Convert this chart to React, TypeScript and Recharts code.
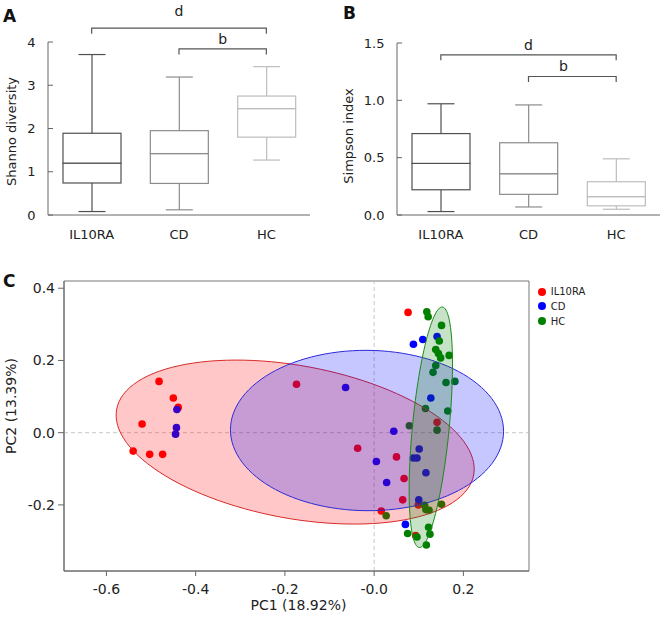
import { ComposedChart, Bar, XAxis, YAxis, ReferenceLine, ScatterChart, Scatter, ReferenceArea, Legend } from 'recharts';

const groups = ['IL10RA', 'CD', 'HC'];

// A: Shannon diversity box plots
const shannonMin = [0.08, 0.12, 1.27];
const shannonQ1 = [0.74, 0.73, 1.8];
const shannonMedian = [1.2, 1.42, 2.46];
const shannonQ3 = [1.89, 1.95, 2.75];
const shannonMax = [3.71, 3.19, 3.43];
const shannonTicks = [0, 1, 2, 3, 4];

// B: Simpson index box plots
const simpsonMin = [0.03, 0.07, 0.05];
const simpsonQ1 = [0.22, 0.18, 0.08];
const simpsonMedian = [0.45, 0.36, 0.16];
const simpsonQ3 = [0.71, 0.63, 0.29];
const simpsonMax = [0.97, 0.96, 0.49];
const simpsonTicks = [0, 0.5, 1.0, 1.5];

// significance brackets
const bracketFrom = ['IL10RA', 'CD'];
const bracketTo = ['HC', 'HC'];
const bracketText = ['d', 'b'];
const shannonBracketY = [4.32, 3.84];
const simpsonBracketY = [1.397, 1.208];

// C: PCA scores
const il10raX = [-0.482, -0.45, -0.439, -0.52, -0.54, -0.503, -0.474, -0.174, 0.076, 0.141, -0.037, 0.05, 0.067, 0.064, 0.099, 0.016, 0.093];
const il10raY = [0.142, 0.096, 0.07, 0.024, -0.051, -0.06, -0.06, 0.134, 0.333, 0.029, -0.043, -0.067, -0.127, -0.186, -0.2, -0.217, -0.285];
const cdX = [-0.442, -0.443, -0.445, 0.109, 0.088, 0.141, -0.064, 0.127, 0.044, 0.005, 0.101, 0.088, 0.096, 0.116, 0.028, 0.1, 0.07];
const cdY = [0.064, 0.014, -0.004, 0.258, 0.245, 0.266, 0.125, 0.096, 0.004, -0.08, -0.045, -0.07, -0.07, -0.111, -0.138, -0.186, -0.254];
const hcX = [0.118, 0.121, 0.151, 0.146, 0.138, 0.144, 0.149, 0.168, 0.138, 0.132, 0.161, 0.181, 0.115, 0.165, 0.079, 0.141, 0.151, 0.113, 0.116, 0.123, 0.027, 0.122, 0.075, 0.125, 0.096, 0.117];
const hcY = [0.335, 0.321, 0.297, 0.254, 0.23, 0.219, 0.207, 0.214, 0.186, 0.167, 0.139, 0.142, 0.067, 0.06, 0.019, 0.007, -0.198, -0.201, -0.213, -0.215, -0.23, -0.262, -0.279, -0.281, -0.289, -0.311];

// 95% ellipses: centre and two semi-axis vectors, data units
const ellipseCX = [-0.177, -0.016, 0.127];
const ellipseCY = [-0.026, 0.006, 0.015];
const ellipseA = [[0.4, -0.091], [0.306, -0.002], [0.026, 0.333]];
const ellipseB = [[-0.031, -0.208], [0, 0.222], [0.041, -0.005]];

const pcaXDomain = [-0.695, 0.347];
const pcaYDomain = [-0.383, 0.42];
const pcaXTicks = [-0.6, -0.4, -0.2, 0, 0.2];
const pcaYTicks = [-0.2, 0, 0.2, 0.4];

const boxColors = ['#505050', '#8c8c8c', '#bdbdbd'];
const groupColors = ['#ff0000', '#0000ff', '#008000'];
const ellipseFill = ['rgba(255,0,0,0.22)', 'rgba(0,0,255,0.22)', 'rgba(0,128,0,0.22)'];
const ellipseStroke = ['#d82a2a', '#2a2ad8', '#1a8a1a'];
const AXIS = '#666';
const TEXT = '#222';
const CAP = 27;

const boxRows = (min: number[], q1: number[], med: number[], q3: number[], max: number[]) =>
  groups.map((name, i) => ({
    name,
    i,
    base: min[i],
    lowWhisker: q1[i] - min[i],
    lowBox: med[i] - q1[i],
    highBox: q3[i] - med[i],
    highWhisker: max[i] - q3[i],
  }));

const whisker = (capAtTop: boolean) => (p: any) => {
  const c = boxColors[p.payload.i];
  const cx = p.x + p.width / 2;
  const capY = capAtTop ? p.y : p.y + p.height;
  return (
    <g>
      <line x1={cx} x2={cx} y1={p.y} y2={p.y + p.height} stroke={c} strokeWidth={1.2} />
      <line x1={cx - CAP / 2} x2={cx + CAP / 2} y1={capY} y2={capY} stroke={c} strokeWidth={1.2} />
    </g>
  );
};

const boxPart = (p: any) => (
  <rect x={p.x} y={p.y} width={p.width} height={p.height} fill="#fff" stroke={boxColors[p.payload.i]} strokeWidth={1.2} />
);

const makeYTick = (axisX: number, fmt: (v: number) => string) => (p: any) => (
  <g>
    <line x1={axisX} x2={axisX + 5} y1={p.y} y2={p.y} stroke={AXIS} />
    <text x={axisX - 12.5} y={p.y} dy="0.36em" textAnchor="end" fill={TEXT} fontSize={13}>
      {fmt(p.payload.value)}
    </text>
  </g>
);

const bracketShape = (p: any) => (
  <path d={`M${p.x1},${p.y1 + 5.5}V${p.y1}H${p.x2}V${p.y2 + 5.5}`} fill="none" stroke="#555" strokeWidth={1.2} />
);

const vTitle = (text: string, x: number, dy: number, size: number) => (props: any) => {
  const vb = props.viewBox;
  const cy = vb.y + vb.height / 2 + dy;
  return (
    <text x={x} y={cy} dy="0.36em" transform={`rotate(-90, ${x}, ${cy})`} textAnchor="middle" fill={TEXT} fontSize={size}>
      {text}
    </text>
  );
};

interface BoxPanelProps {
  rows: ReturnType<typeof boxRows>;
  ticks: number[];
  fmt: (v: number) => string;
  title: string;
  titleX: number;
  titleDy: number;
  bracketY: number[];
  labelOffsets: number[];
  labelDx: number[];
  width: number;
  yAxisW: number;
  top: number;
  right: number;
}

const BoxPanel = (p: BoxPanelProps) => (
  <ComposedChart width={p.width} height={250} data={p.rows} margin={{ top: p.top, right: p.right, bottom: 0, left: 0 }}>
    <XAxis
      dataKey="name"
      height={35}
      tickLine={false}
      tickMargin={9}
      stroke={AXIS}
      tick={{ fill: TEXT, fontSize: 13 }}
    />
    <YAxis
      width={p.yAxisW}
      domain={[p.ticks[0], p.ticks[p.ticks.length - 1]]}
      ticks={p.ticks}
      tickLine={false}
      stroke={AXIS}
      tick={makeYTick(p.yAxisW, p.fmt)}
      label={{ content: vTitle(p.title, p.titleX, p.titleDy, 13) }}
    />
    <Bar dataKey="base" stackId="s" fill="none" barSize={58} isAnimationActive={false} />
    <Bar dataKey="lowWhisker" stackId="s" barSize={58} shape={whisker(false)} isAnimationActive={false} />
    <Bar dataKey="lowBox" stackId="s" barSize={58} shape={boxPart} isAnimationActive={false} />
    <Bar dataKey="highBox" stackId="s" barSize={58} shape={boxPart} isAnimationActive={false} />
    <Bar dataKey="highWhisker" stackId="s" barSize={58} shape={whisker(true)} isAnimationActive={false} />
    {bracketText.map((t, k) => (
      <ReferenceLine
        key={t}
        ifOverflow="visible"
        segment={[{ x: bracketFrom[k], y: p.bracketY[k] }, { x: bracketTo[k], y: p.bracketY[k] }]}
        shape={bracketShape}
        label={{ value: t, position: 'top', offset: p.labelOffsets[k], fill: TEXT, fontSize: 14, dx: p.labelDx[k] }}
      />
    ))}
  </ComposedChart>
);

const toPoints = (xs: number[], ys: number[]) => xs.map((x, i) => ({ x, y: ys[i] }));

const ellipsePoints = (i: number) =>
  Array.from({ length: 120 }, (_, k) => {
    const t = (k / 120) * 2 * Math.PI;
    return {
      x: ellipseCX[i] + ellipseA[i][0] * Math.cos(t) + ellipseB[i][0] * Math.sin(t),
      y: ellipseCY[i] + ellipseA[i][1] * Math.cos(t) + ellipseB[i][1] * Math.sin(t),
    };
  });

const pcaSeries = [toPoints(il10raX, il10raY), toPoints(cdX, cdY), toPoints(hcX, hcY)];

const renderLegend = (props: any) => {
  const items = (props.payload || [])
    .filter((e: any) => groups.includes(e.value))
    .sort((a: any, b: any) => groups.indexOf(a.value) - groups.indexOf(b.value));
  return (
    <div style={{ fontSize: 10, color: TEXT }}>
      {items.map((e: any) => (
        <div key={e.value} style={{ display: 'flex', alignItems: 'center', height: 14.7 }}>
          <span style={{ width: 8, height: 8, borderRadius: '50%', background: groupColors[groups.indexOf(e.value)], marginRight: 5 }} />
          <span>{e.value}</span>
        </div>
      ))}
    </div>
  );
};

const panelLetter = { position: 'absolute' as const, fontSize: 17, fontWeight: 'bold' as const, lineHeight: '17px', color: '#111' };

export default function App() {
  return (
    <div style={{ position: 'absolute', left: 0, top: 0, width: 667, height: 624, background: '#fff', fontFamily: '"DejaVu Sans", sans-serif' }}>
      <div style={{ position: 'absolute', left: 0, top: 0 }}>
        <BoxPanel
          rows={boxRows(shannonMin, shannonQ1, shannonMedian, shannonQ3, shannonMax)}
          ticks={shannonTicks}
          fmt={(v) => String(v)}
          title="Shanno diversity"
          titleX={11.5}
          titleDy={3}
          bracketY={shannonBracketY}
          labelOffsets={[12, 4.5]}
          labelDx={[0, 0]}
          width={330}
          yAxisW={48}
          top={42}
          right={20}
        />
      </div>
      <div style={{ position: 'absolute', left: 330, top: 0 }}>
        <BoxPanel
          rows={boxRows(simpsonMin, simpsonQ1, simpsonMedian, simpsonQ3, simpsonMax)}
          ticks={simpsonTicks}
          fmt={(v) => v.toFixed(1)}
          title="Simpson index"
          titleX={18}
          titleDy={7}
          bracketY={simpsonBracketY}
          labelOffsets={[5, 5]}
          labelDx={[0, -9]}
          width={337}
          yAxisW={67}
          top={43}
          right={7}
        />
      </div>
      <div style={{ position: 'absolute', left: 0, top: 260 }}>
        <ScatterChart width={667} height={364} margin={{ top: 21, right: 138, bottom: 0, left: 0 }}>
          <XAxis
            type="number"
            dataKey="x"
            domain={pcaXDomain}
            ticks={pcaXTicks}
            allowDataOverflow
            height={53}
            tickSize={5}
            tickMargin={8}
            stroke={AXIS}
            tick={{ fill: TEXT, fontSize: 14 }}
            tickFormatter={(v: number) => (v === 0 ? '-0.0' : v.toFixed(1))}
            label={{ value: 'PC1 (18.92%)', position: 'insideBottom', offset: 14, fill: TEXT, fontSize: 14, dx: 2 }}
          />
          <YAxis
            type="number"
            dataKey="y"
            domain={pcaYDomain}
            ticks={pcaYTicks}
            allowDataOverflow
            width={64}
            tickSize={6}
            tickMargin={3}
            stroke={AXIS}
            tick={{ fill: TEXT, fontSize: 14 }}
            tickFormatter={(v: number) => v.toFixed(1)}
            label={{ content: vTitle('PC2 (13.39%)', 11, -20, 14) }}
          />
          <ReferenceArea x1={pcaXDomain[0]} x2={pcaXDomain[1]} y1={pcaYDomain[0]} y2={pcaYDomain[1]} fill="none" stroke="#777" />
          <ReferenceLine x={0} stroke="#c8c8c8" strokeDasharray="4 3" />
          <ReferenceLine y={0} stroke="#c8c8c8" strokeDasharray="4 3" />
          {pcaSeries.map((pts, i) => (
            <Scatter
              key={groups[i]}
              name={groups[i]}
              data={pts}
              fill={groupColors[i]}
              legendType="circle"
              shape={(p: any) => <circle cx={p.cx} cy={p.cy} r={3.8} fill={groupColors[i]} />}
              isAnimationActive={false}
            />
          ))}
          {groups.map((g, i) => (
            <Scatter
              key={`ellipse-${g}`}
              name={`ellipse-${g}`}
              data={ellipsePoints(i)}
              fill={ellipseStroke[i]}
              legendType="none"
              line={{ fill: ellipseFill[i], stroke: ellipseStroke[i], strokeWidth: 1 }}
              lineJointType="linearClosed"
              shape={() => <g />}
              isAnimationActive={false}
            />
          ))}
          <Legend
            layout="vertical"
            align="center"
            verticalAlign="middle"
            wrapperStyle={{ left: 537.7, top: 24.3, width: 90 }}
            content={renderLegend}
          />
        </ScatterChart>
      </div>
      <div style={{ ...panelLetter, left: 3, top: 8 }}>A</div>
      <div style={{ ...panelLetter, left: 343, top: 5 }}>B</div>
      <div style={{ ...panelLetter, left: 3, top: 273 }}>C</div>
    </div>
  );
}
